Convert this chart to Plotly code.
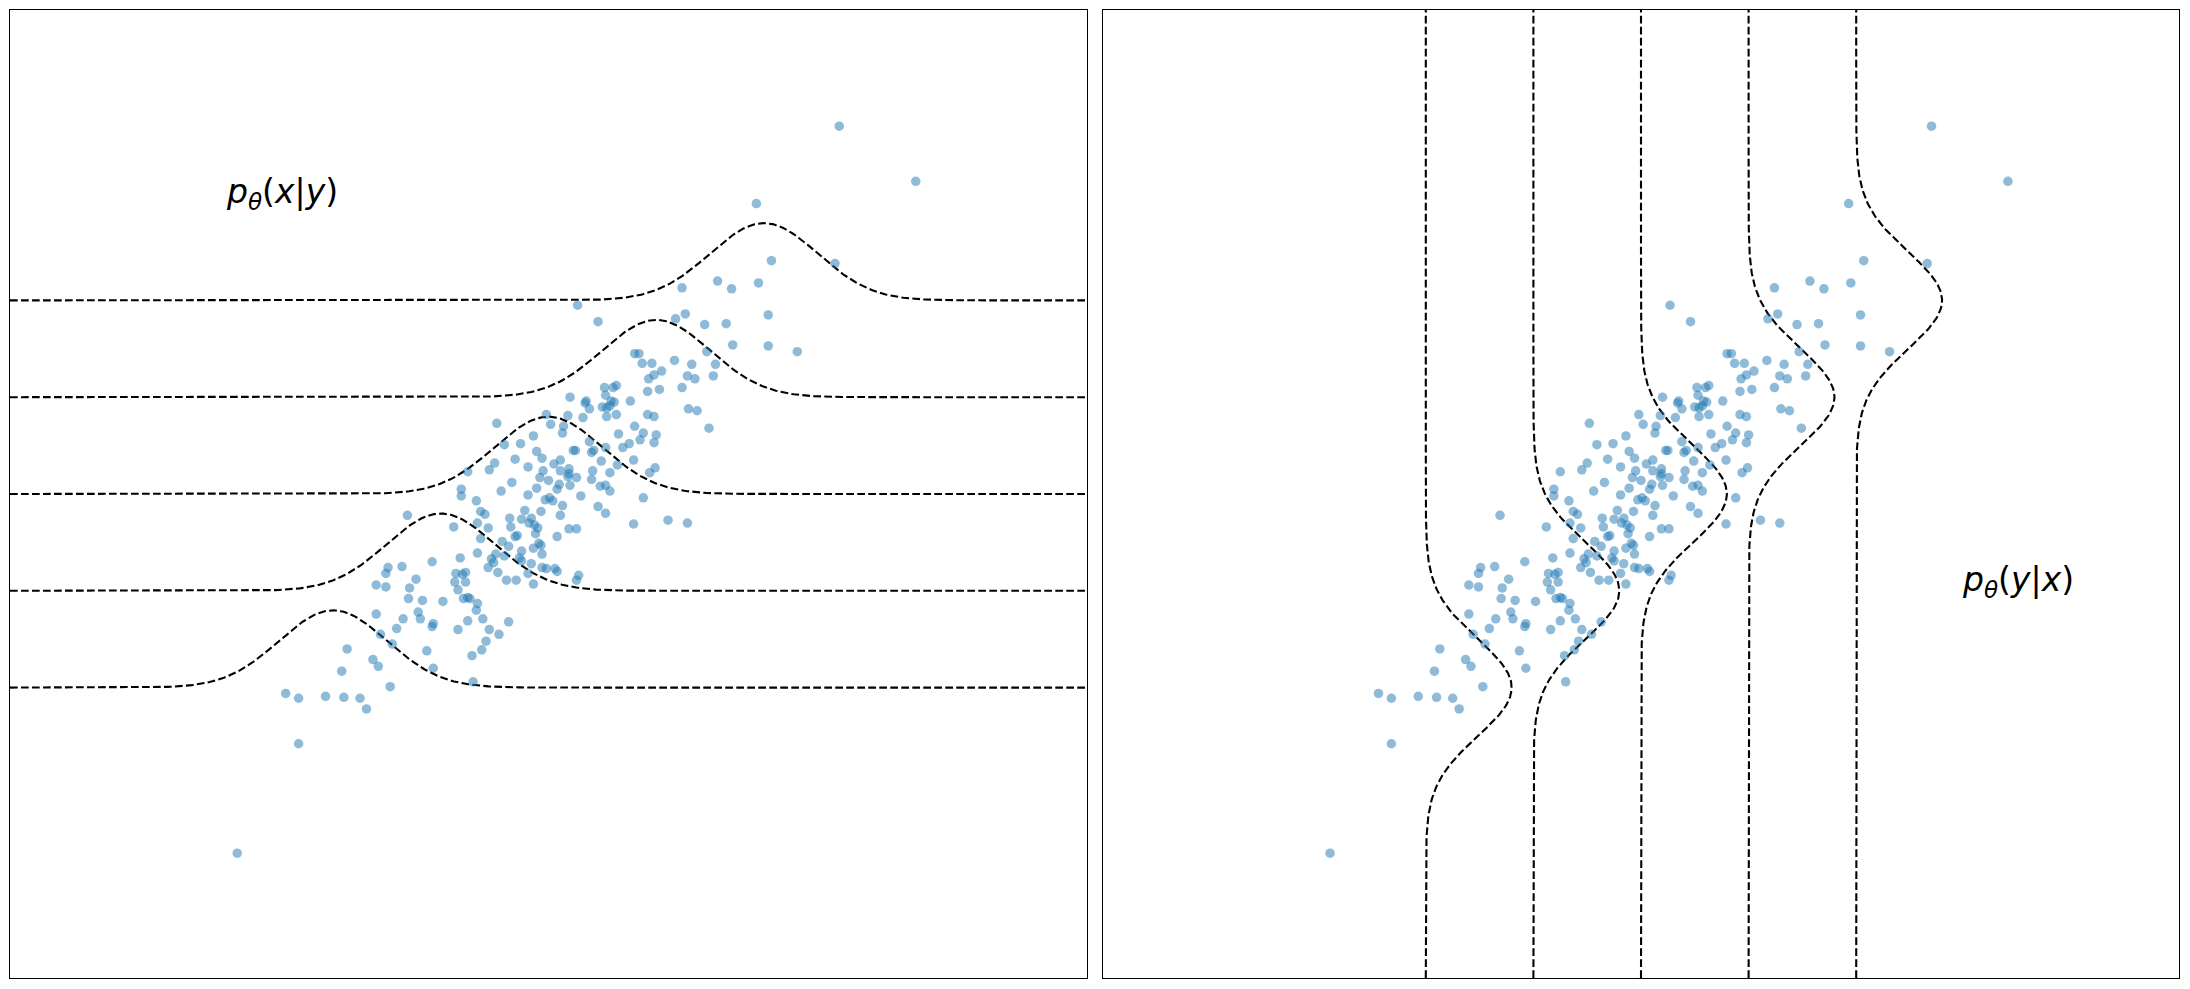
import numpy as np
import plotly.graph_objects as go

# ---- data (data units, axes span -3..7 in both directions) ----
pts_x = [4.70, 5.41, 3.93, 4.07, 4.66, 3.24, 3.57, 3.70, 3.95,
         2.27, 2.46, 3.18, 3.27, 3.45, 3.65, 4.04, 3.71, 4.04, 4.31, 3.47, 2.80, 2.84, 2.87, 2.96, 3.17, 3.33, 3.55,
         3.05, 2.98, 2.93, 3.29, 3.36, 3.53, 2.52, 2.60, 2.63, 2.92, 3.03, 3.24, 2.20, 2.53, 2.35, 2.34, 2.38, 2.58,
         2.61, 2.76, 2.50, 2.54, 2.57, 3.30, 3.38, 1.98, 2.18, 2.32, 2.54, 2.63, 2.92, 2.98,
         1.52, 2.02, 2.14, 2.80, 2.13, 1.86, 2.65, 2.88, 3.00, 2.85, 2.98, 3.49, 1.59, 1.74, 2.38, 2.53, 2.69, 2.75,
         1.89, 2.23, 2.25, 2.40, 2.42, 1.94, 1.69, 2.49, 2.79, 1.50, 2.05, 2.11, 2.64, 1.45, 1.81, 1.95, 2.11, 2.19,
         2.19, 2.41, 2.57, 2.94, 2.99, 1.25,
         1.66, 1.92, 2.00, 2.10, 2.18, 2.26, 2.20, 2.40, 2.48, 2.53, 2.57, 1.19, 1.19, 1.56, 1.89, 2.08, 1.81, 1.97,
         2.01, 2.04, 2.30, 2.88, 1.33, 1.37, 1.41, 1.78, 1.93, 2.13, 2.11, 2.46, 2.53, 0.69, 1.34, 1.64, 1.75, 1.84,
         1.82, 1.87, 1.65, 1.12, 1.44, 1.90, 2.19, 2.26, 2.79, 3.11, 3.29,
         1.37, 1.57, 1.63, 1.69, 1.71, 1.88, 1.86, 1.91, 1.93, 2.08, 1.34, 1.51, 1.59, 1.75, 1.94, 1.18, 0.92, 1.47,
         1.49, 1.44, 1.73, 1.75, 1.84, 1.94, 1.98, 2.06, 2.08, 1.81, 0.51, 0.49, 0.64, 1.53, 1.14, 1.20, 1.23, 0.77,
         1.13, 1.23, 1.61, 1.70, 1.86, 2.28, 2.26, 0.40, 0.49, 0.71,
         1.16, 0.70, 0.83, 1.02, 1.21, 1.25, 1.27, 1.34, 1.33, 0.40, 0.79, 0.81, 0.65, 0.93, 0.92, 1.25, 1.39, 1.63,
         0.59, 0.44, 1.16, 1.45, 1.54, 1.42, 0.55,
         0.13, 0.87, 1.29, 1.38, 0.37, 0.42, 0.93, 0.08, 1.30, 0.53, -0.44, -0.32, -0.07, 0.10, 0.25,
         0.31, -0.32, -0.89]
pts_y = [5.80, 5.23, 5.00, 4.41, 4.38, 4.13, 4.20, 4.12, 4.18,
         3.95, 3.78, 3.81, 3.86, 3.75, 3.76, 3.85, 3.54, 3.53, 3.47, 3.47, 3.45, 3.45, 3.35, 3.35, 3.38, 3.34, 3.34,
         3.27, 3.23, 3.19, 3.22, 3.19, 3.22, 3.10, 3.10, 3.12, 3.06, 3.08, 3.10, 3.00, 3.02, 2.96, 2.94, 2.88, 2.96,
         2.95, 2.96, 2.90, 2.89, 2.91, 2.88, 2.86, 2.82, 2.81, 2.79, 2.80, 2.82, 2.82, 2.80,
         2.73, 2.72, 2.70, 2.70, 2.63, 2.60, 2.62, 2.63, 2.61, 2.56, 2.53, 2.68, 2.51, 2.52, 2.54, 2.48, 2.48, 2.52,
         2.44, 2.45, 2.45, 2.43, 2.45, 2.37, 2.36, 2.34, 2.35, 2.32, 2.31, 2.35, 2.30, 2.25, 2.28, 2.24, 2.24, 2.26,
         2.21, 2.24, 2.22, 2.22, 2.27, 2.23,
         2.12, 2.17, 2.14, 2.10, 2.18, 2.17, 2.09, 2.15, 2.08, 2.09, 2.03, 2.05, 1.98, 2.03, 2.06, 2.05, 1.99, 1.94,
         1.96, 1.93, 1.98, 1.96, 1.93, 1.82, 1.79, 1.83, 1.82, 1.88, 1.78, 1.87, 1.80, 1.78, 1.70, 1.75, 1.74, 1.75,
         1.70, 1.68, 1.66, 1.66, 1.65, 1.65, 1.64, 1.64, 1.69, 1.73, 1.70,
         1.54, 1.51, 1.46, 1.56, 1.57, 1.59, 1.44, 1.49, 1.47, 1.56, 1.39, 1.38, 1.36, 1.41, 1.38, 1.34, 1.30, 1.33,
         1.29, 1.24, 1.34, 1.31, 1.28, 1.24, 1.23, 1.23, 1.20, 1.18, 1.24, 1.18, 1.25, 1.19, 1.18, 1.17, 1.19, 1.12,
         1.09, 1.09, 1.11, 1.11, 1.07, 1.16, 1.11, 1.06, 1.04, 1.03,
         1.01, 0.92, 0.90, 0.89, 0.92, 0.93, 0.92, 0.87, 0.80, 0.76, 0.78, 0.71, 0.71, 0.66, 0.63, 0.69, 0.71, 0.68,
         0.61, 0.55, 0.60, 0.60, 0.55, 0.48, 0.45,
         0.40, 0.38, 0.33, 0.39, 0.29, 0.22, 0.20, 0.17, 0.06, 0.01, -0.06, -0.11, -0.09, -0.10, -0.11,
         -0.22, -0.58, -1.71]

levels = [0, 1, 2, 3, 4]          # conditioning values of the dashed density curves
cond_sigma = 0.5                  # width of the conditional densities
axis_range = [-3, 7]
label_left = "<i>p</i><sub><i>θ</i></sub>(<i>x</i>|<i>y</i>)"
label_right = "<i>p</i><sub><i>θ</i></sub>(<i>y</i>|<i>x</i>)"
label_left_pos = (-0.47, 5.10)
label_right_pos = (5.50, 1.10)

W, H = 2190, 989


def npdf(v, mu, s):
    return np.exp(-0.5 * ((v - mu) / s) ** 2) / (s * np.sqrt(2 * np.pi))


fig = go.Figure()
marker = dict(size=9.5, color="rgba(31,119,180,0.5)", line=dict(width=0))
dash = dict(color="black", width=2.1, dash="7.7px,3.3px")
grid = np.linspace(axis_range[0], axis_range[1], 600)

# left panel: p(x|y)
for k in levels:
    fig.add_trace(go.Scatter(x=grid, y=k + npdf(grid, k, cond_sigma), mode="lines",
                             line=dash, xaxis="x", yaxis="y", hoverinfo="skip"))
fig.add_trace(go.Scatter(x=pts_x, y=pts_y, mode="markers", marker=marker, xaxis="x", yaxis="y"))

# right panel: p(y|x)
for k in levels:
    fig.add_trace(go.Scatter(x=k + npdf(grid, k, cond_sigma), y=grid, mode="lines",
                             line=dash, xaxis="x2", yaxis="y2", hoverinfo="skip"))
fig.add_trace(go.Scatter(x=pts_x, y=pts_y, mode="markers", marker=marker, xaxis="x2", yaxis="y2"))

ax = dict(range=axis_range, showgrid=False, zeroline=False, showticklabels=False, ticks="",
          showline=True, mirror=True, linecolor="black", linewidth=1)
fig.update_layout(
    width=W, height=H, margin=dict(l=0, r=0, t=0, b=0),
    paper_bgcolor="white", plot_bgcolor="white", showlegend=False,
    xaxis=dict(ax, domain=[10 / W, 1087 / W], anchor="y"),
    yaxis=dict(ax, domain=[1 - 978 / H, 1 - 10 / H], anchor="x"),
    xaxis2=dict(ax, domain=[1103 / W, 2179 / W], anchor="y2"),
    yaxis2=dict(ax, domain=[1 - 978 / H, 1 - 10 / H], anchor="x2"),
    font=dict(family="DejaVu Sans", color="black"),
    annotations=[
        dict(text=label_left, x=label_left_pos[0], y=label_left_pos[1], xref="x", yref="y",
             showarrow=False, font=dict(size=33, family="DejaVu Sans")),
        dict(text=label_right, x=label_right_pos[0], y=label_right_pos[1], xref="x2", yref="y2",
             showarrow=False, font=dict(size=33, family="DejaVu Sans")),
    ],
)

fig.write_html("out.html", config={"displayModeBar": False},
               post_script="document.body.style.margin='0';document.body.style.overflow='hidden';")
